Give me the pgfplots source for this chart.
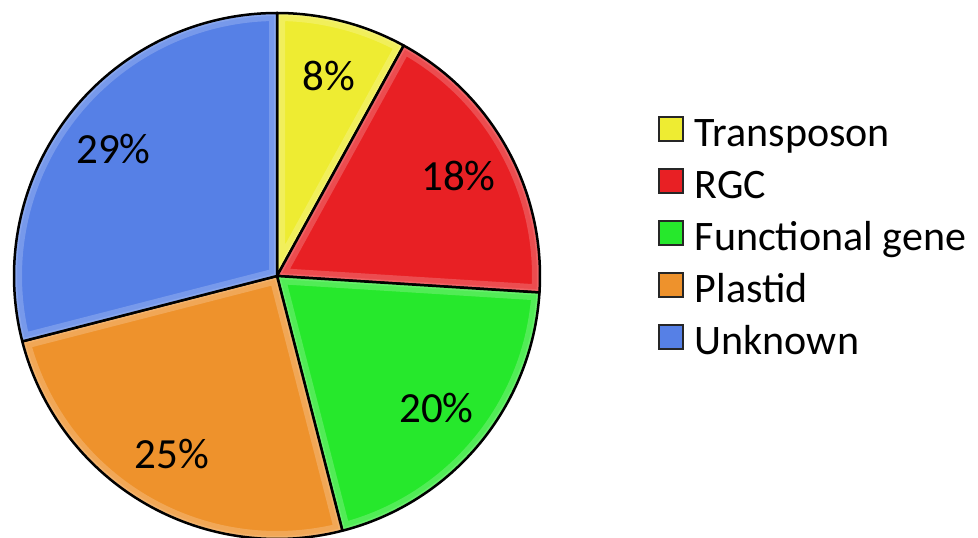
\documentclass[border=0pt]{standalone}
\usepackage{pgfplots}
\pgfplotsset{compat=1.18}
\usepackage{pgfplotstable}
\usepackage{fontspec}
\setmainfont{Carlito}

\definecolor{cTrans}{RGB}{238,236,50}
\definecolor{cRGC}{RGB}{232,32,36}
\definecolor{cFunc}{RGB}{38,232,44}
\definecolor{cPlas}{RGB}{238,146,44}
\definecolor{cUnk}{RGB}{86,128,230}

% share of each sequence class (percent), clockwise from 12 o'clock
\pgfplotstableread[col sep=comma]{
name,share,colour
Transposon,8,cTrans
RGC,18,cRGC
Functional gene,20,cFunc
Plastid,25,cPlas
Unknown,29,cUnk
}\piedata

\begin{document}
\begin{tikzpicture}
\begin{axis}[
  scale only axis, width=978pt, height=538pt,
  xmin=0, xmax=978, ymin=0, ymax=538,
  hide axis, clip=false,
  legend cell align=left,
  legend image code/.code={\draw[#1] (0pt,-5pt) rectangle (24pt,19pt);},
  legend style={draw=none, fill=none, inner sep=0pt,
    at={(axis cs:658,422)}, anchor=north west,
    font=\fontsize{42}{50}\selectfont,
    row sep=12pt,
    nodes={inner sep=0pt, text height=30pt, text depth=10pt},
    /tikz/every odd column/.append style={column sep=11pt}},
]
\addlegendimage{fill=cTrans, draw=black!85, line width=1.6pt}
\addlegendentry{Transposon}
\addlegendimage{fill=cRGC, draw=black!85, line width=1.6pt}
\addlegendentry{RGC}
\addlegendimage{fill=cFunc, draw=black!85, line width=1.6pt}
\addlegendentry{Functional gene}
\addlegendimage{fill=cPlas, draw=black!85, line width=1.6pt}
\addlegendentry{Plastid}
\addlegendimage{fill=cUnk, draw=black!85, line width=1.6pt}
\addlegendentry{Unknown}

\pgfplotsextra{
  \gdef\angacc{90}
  \foreach \i in {0,...,4}{
    \pgfplotstablegetelem{\i}{share}\of\piedata
    \let\val\pgfplotsretval
    \pgfplotstablegetelem{\i}{colour}\of\piedata
    \let\col\pgfplotsretval
    \pgfmathsetmacro\a{\angacc}
    \pgfmathsetmacro\b{\angacc-3.6*\val}
    \pgfmathsetmacro\m{(\a+\b)/2}
    % wedge body
    \fill[\col] (axis cs:277,262) -- ++(\a:263pt)
      arc[start angle=\a, end angle=\b, radius=263pt] -- cycle;
    % soft bevel along the inner edges of the wedge
    \begin{scope}
      \clip (axis cs:277,262) -- ++(\a:263pt)
        arc[start angle=\a, end angle=\b, radius=263pt] -- cycle;
      \draw[white, opacity=0.2, line width=16pt, line join=round]
        (axis cs:277,262) -- ++(\a:263pt)
        arc[start angle=\a, end angle=\b, radius=263pt] -- cycle;
      \draw[white, opacity=0.12, line width=6pt, line join=round]
        (axis cs:277,262) -- ++(\a:263pt)
        arc[start angle=\a, end angle=\b, radius=263pt] -- cycle;
    \end{scope}
    \draw[black, line width=2.5pt, line join=round]
      (axis cs:277,262) -- ++(\a:263pt)
      arc[start angle=\a, end angle=\b, radius=263pt] -- cycle;
    \path (axis cs:277,262) ++(\m:207pt)
      node[font=\fontsize{43}{50}\selectfont] {\val\%};
    \xdef\angacc{\b}
  }
}
\end{axis}
\pgfresetboundingbox
\path (0,0) rectangle (978pt,538pt);
\end{tikzpicture}
\end{document}
